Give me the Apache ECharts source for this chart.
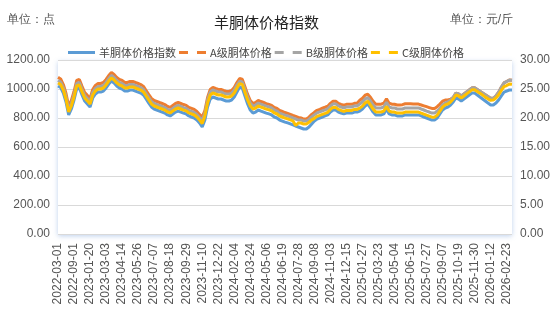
<!DOCTYPE html>
<html>
<head>
<meta charset="utf-8">
<script src="https://cdn.jsdelivr.net/npm/echarts@6/dist/echarts.min.js"></script>
<style>
  html, body { margin: 0; padding: 0; background: #fff; }
  #chart { width: 555px; height: 322px; }
</style>
</head>
<body>
<div id="chart"></div>
<script>
// Weekly dates (monthly at the start of the series)
const dates = [
  '2022-03-01','2022-04-01','2022-05-01','2022-06-01','2022-07-01','2022-08-01',
  '2022-09-01','2022-10-01','2022-11-01','2022-12-01','2022-12-30','2023-01-13',
  '2023-01-20','2023-01-27','2023-02-03','2023-02-10','2023-02-17','2023-02-24',
  '2023-03-03','2023-03-10','2023-03-17','2023-03-24','2023-03-31','2023-04-07',
  '2023-04-14','2023-04-21','2023-04-28','2023-05-05','2023-05-12','2023-05-19',
  '2023-05-26','2023-06-02','2023-06-09','2023-06-16','2023-06-23','2023-06-30',
  '2023-07-07','2023-07-14','2023-07-21','2023-07-28','2023-08-04','2023-08-11',
  '2023-08-18','2023-08-25','2023-09-01','2023-09-08','2023-09-15','2023-09-22',
  '2023-09-29','2023-10-06','2023-10-13','2023-10-20','2023-10-27','2023-11-03',
  '2023-11-10','2023-11-17','2023-11-24','2023-12-01','2023-12-08','2023-12-15',
  '2023-12-22','2023-12-29','2024-01-05','2024-01-12','2024-01-19','2024-01-26',
  '2024-02-04','2024-02-18','2024-02-25','2024-03-03','2024-03-10','2024-03-17',
  '2024-03-24','2024-03-31','2024-04-07','2024-04-14','2024-04-21','2024-04-28',
  '2024-05-06','2024-05-13','2024-05-20','2024-05-27','2024-06-03','2024-06-10',
  '2024-06-19','2024-06-23','2024-06-30','2024-07-07','2024-07-14','2024-07-21',
  '2024-07-28','2024-08-04','2024-08-11','2024-08-18','2024-08-25','2024-09-01',
  '2024-09-08','2024-09-15','2024-09-22','2024-10-13','2024-10-20','2024-10-27',
  '2024-11-03','2024-11-10','2024-11-17','2024-11-24','2024-12-01','2024-12-08',
  '2024-12-15','2024-12-22','2024-12-29','2025-01-05','2025-01-12','2025-01-19',
  '2025-01-27','2025-02-09','2025-02-16','2025-03-02','2025-03-09','2025-03-16',
  '2025-03-23','2025-03-30','2025-04-06','2025-04-13','2025-04-20','2025-04-27',
  '2025-05-04','2025-05-11','2025-05-18','2025-05-25','2025-06-01','2025-06-08',
  '2025-06-15','2025-06-22','2025-06-29','2025-07-06','2025-07-13','2025-07-20',
  '2025-07-27','2025-08-03','2025-08-10','2025-08-17','2025-08-24','2025-08-31',
  '2025-09-07','2025-09-14','2025-09-21','2025-09-28','2025-10-05','2025-10-12',
  '2025-10-19','2025-10-26','2025-11-02','2025-11-09','2025-11-16','2025-11-23',
  '2025-11-30','2025-12-07','2025-12-14','2025-12-21','2025-12-28','2026-01-04',
  '2026-01-12','2026-01-19','2026-01-26','2026-02-02','2026-02-09','2026-02-16',
  '2026-02-23','2026-03-02','2026-03-09'
];

// 羊胴体价格指数 (点)
const indexValues = [
  1021,1010,972,910,821,862,924,1000,1007,959,917,897,
  876,938,966,979,979,986,1007,1034,1055,1041,1021,1007,
  1000,986,986,993,993,986,979,972,959,931,903,876,
  862,855,848,841,834,821,814,828,841,848,841,834,
  828,814,807,800,786,766,738,786,876,931,945,938,
  931,931,924,917,917,924,945,979,1014,1007,952,897,
  855,834,841,855,848,841,834,828,821,807,800,786,
  779,772,766,759,752,745,738,731,724,724,738,759,
  779,793,800,807,814,821,841,855,855,841,834,828,
  834,834,834,841,841,848,862,883,897,869,841,821,
  821,821,828,862,828,821,821,814,814,814,821,821,
  821,821,821,821,814,807,800,793,786,786,800,828,
  855,869,876,890,910,938,931,917,931,945,959,972,
  972,959,945,931,917,903,890,890,903,924,952,979,
  986,993,993
];

// A级胴体价格 (元/斤)
const gradeA = [
  27.00,26.72,25.77,24.22,22.00,23.02,24.57,26.47,26.65,25.45,24.40,23.90,
  23.37,24.92,25.62,25.95,25.95,26.12,26.65,27.32,27.85,27.50,27.00,26.65,
  26.47,26.12,26.12,26.30,26.30,26.12,25.95,25.77,25.45,24.75,24.05,23.37,
  23.02,22.85,22.67,22.50,22.32,22.00,21.82,22.17,22.50,22.67,22.50,22.32,
  22.17,21.82,21.65,21.47,21.12,20.62,20.17,21.29,23.54,24.92,25.27,25.09,
  24.92,24.92,24.74,24.57,24.57,24.74,25.27,26.12,26.80,26.70,25.40,24.07,
  23.02,22.49,22.67,23.02,22.84,22.67,22.49,22.34,22.17,21.82,21.64,21.29,
  21.12,20.94,20.79,20.62,20.44,20.27,20.09,20.00,19.82,19.82,20.15,20.62,
  20.98,21.33,21.50,21.68,21.85,22.03,22.53,22.88,22.88,22.53,22.35,22.20,
  22.35,22.35,22.35,22.53,22.53,23.05,23.40,23.93,24.10,23.58,22.88,22.38,
  22.38,22.38,22.55,23.30,22.55,22.38,22.38,22.25,22.25,22.30,22.45,22.45,
  22.45,22.40,22.40,22.40,22.25,22.10,21.95,21.80,21.65,21.65,21.95,22.40,
  22.90,23.10,23.10,23.25,23.50,24.30,24.15,23.80,24.15,24.50,24.85,25.20,
  25.20,24.90,24.60,24.30,24.00,23.70,23.40,23.40,23.80,24.45,25.30,26.05,
  26.30,26.55,26.50
];

// B级胴体价格 (元/斤)
const gradeB = [
  26.48,26.20,25.25,23.70,21.48,22.50,24.05,25.95,26.13,24.93,23.88,23.38,
  22.85,24.40,25.10,25.43,25.43,25.60,26.13,26.80,27.33,26.98,26.48,26.13,
  25.95,25.60,25.60,25.78,25.78,25.60,25.43,25.25,24.93,24.23,23.53,22.85,
  22.50,22.33,22.15,21.98,21.80,21.48,21.30,21.65,21.98,22.15,21.98,21.80,
  21.65,21.30,21.13,20.95,20.60,20.10,19.60,20.85,23.10,24.48,24.83,24.65,
  24.48,24.48,24.30,24.13,24.13,24.30,24.83,25.68,26.33,26.20,24.95,23.63,
  22.58,22.05,22.23,22.58,22.40,22.23,22.05,21.90,21.73,21.38,21.20,20.85,
  20.68,20.50,20.35,20.18,20.00,19.83,19.65,19.66,19.48,19.48,19.75,20.18,
  20.53,20.88,21.05,21.23,21.40,21.58,22.08,22.43,22.43,22.08,21.90,21.75,
  21.90,21.90,21.90,22.08,22.08,22.40,22.75,23.28,23.50,22.93,22.23,21.73,
  21.73,21.73,21.90,22.70,21.90,21.73,21.73,21.55,21.55,21.55,21.73,21.73,
  21.73,21.73,21.73,21.73,21.55,21.38,21.20,21.03,20.85,20.85,21.20,21.60,
  22.25,22.60,22.78,23.10,23.60,24.30,24.15,23.80,24.15,24.50,24.85,25.20,
  25.20,24.90,24.60,24.30,24.00,23.70,23.40,23.40,23.80,24.45,25.30,26.05,
  26.30,26.55,26.50
];

// C级胴体价格 (元/斤)
const gradeC = [
  26.05,25.77,24.82,23.27,21.05,22.07,23.62,25.52,25.70,24.50,23.45,22.95,
  22.42,23.97,24.67,25.00,25.00,25.17,25.70,26.37,26.90,26.55,26.05,25.70,
  25.52,25.17,25.17,25.35,25.35,25.17,25.00,24.82,24.50,23.80,23.10,22.42,
  22.07,21.90,21.72,21.55,21.37,21.05,20.87,21.22,21.55,21.72,21.55,21.37,
  21.22,20.87,20.70,20.52,20.17,19.67,19.05,20.34,22.59,23.97,24.32,24.14,
  23.97,23.97,23.79,23.62,23.62,23.79,24.32,25.17,25.93,25.80,24.45,23.12,
  22.07,21.54,21.72,22.07,21.89,21.72,21.54,21.39,21.22,20.87,20.69,20.34,
  20.17,19.99,19.84,19.67,19.49,18.70,19.14,19.14,18.96,18.96,19.25,19.67,
  19.93,20.28,20.45,20.63,20.80,20.98,21.48,21.83,21.83,21.48,21.30,21.15,
  21.30,21.30,21.30,21.48,21.48,21.70,22.05,22.58,22.90,22.23,21.53,21.03,
  21.03,21.03,21.20,22.00,21.20,21.03,21.03,20.85,20.85,20.85,21.03,21.03,
  21.03,21.03,21.03,21.03,20.85,20.68,20.50,20.33,20.15,20.15,20.50,21.20,
  21.88,22.25,22.42,22.77,23.27,23.97,23.80,23.45,23.80,24.15,24.50,24.85,
  24.85,24.55,24.25,23.95,23.60,23.30,23.05,23.10,23.45,24.00,24.75,25.40,
  25.60,25.85,25.80
];

const seriesNames = ['羊胴体价格指数', 'A级胴体价格', 'B级胴体价格', 'C级胴体价格'];
const seriesColors = ['#5B9BD5', '#ED7D31', '#A5A5A5', '#FFC000'];

const font = '"Noto Sans CJK SC", "Microsoft YaHei", sans-serif';
const solidIcon = 'path://M0,0h27v3h-27z';
const dashIcon = 'path://M0,0h9v3h-9zM18,0h9v3h-9z';

const chart = echarts.init(document.getElementById('chart'), null, { renderer: 'canvas' });

chart.setOption({
  animation: false,
  backgroundColor: '#ffffff',
  textStyle: { fontFamily: font },
  title: {
    text: '羊胴体价格指数',
    left: 209,
    top: 10,
    textStyle: { fontSize: 15, fontWeight: 'normal', color: '#222', fontFamily: font }
  },
  graphic: [
    {
      type: 'text', left: 7, top: 14,
      style: { text: '单位：点', fontSize: 12, fill: '#555', font: '12px ' + font }
    },
    {
      type: 'text', right: 42, top: 14,
      style: { text: '单位：元/斤', fontSize: 12, fill: '#555', font: '12px ' + font }
    }
  ],
  legend: {
    left: 63,
    top: 42,
    itemWidth: 27,
    itemHeight: 3,
    itemGap: 3,
    textStyle: { fontSize: 11, color: '#444', fontFamily: font, padding: [0, 0, 0, -1] },
    data: [
      { name: seriesNames[0], icon: solidIcon },
      { name: seriesNames[1], icon: dashIcon },
      { name: seriesNames[2], icon: dashIcon },
      { name: seriesNames[3], icon: dashIcon }
    ]
  },
  grid: {
    left: 58, right: 43, top: 60, bottom: 88,
    show: true,
    backgroundColor: '#ffffff',
    borderWidth: 0,
    shadowColor: 'rgba(70,120,200,0.35)',
    shadowBlur: 5,
    shadowOffsetX: 0,
    shadowOffsetY: 2
  },
  xAxis: {
    type: 'category',
    data: dates,
    boundaryGap: false,
    axisLine: { show: false },
    axisTick: { show: false },
    axisLabel: {
      interval: 5,
      rotate: 90,
      fontSize: 12,
      color: '#555',
      margin: 9,
      fontFamily: 'sans-serif'
    }
  },
  yAxis: [
    {
      type: 'value',
      min: 0, max: 1200, interval: 200,
      axisLine: { show: false },
      axisTick: { show: false },
      axisLabel: {
        fontSize: 12, color: '#555', margin: 8, fontFamily: 'sans-serif',
        formatter: v => v.toFixed(2)
      },
      splitLine: { lineStyle: { color: '#D9D9D9', width: 1 } }
    },
    {
      type: 'value',
      min: 0, max: 30, interval: 5,
      axisLine: { show: false },
      axisTick: { show: false },
      axisLabel: {
        fontSize: 12, color: '#555', margin: 8, fontFamily: 'sans-serif',
        formatter: v => v.toFixed(2)
      },
      splitLine: { show: false }
    }
  ],
  series: [
    { name: seriesNames[0], data: indexValues, yAxisIndex: 0 },
    { name: seriesNames[1], data: gradeA, yAxisIndex: 1 },
    { name: seriesNames[2], data: gradeB, yAxisIndex: 1 },
    { name: seriesNames[3], data: gradeC, yAxisIndex: 1 }
  ].map((s, i) => Object.assign({
    type: 'line',
    showSymbol: false,
    symbol: 'none',
    color: seriesColors[i],
    lineStyle: { width: 3, color: seriesColors[i] }
  }, s))
});
</script>
</body>
</html>
